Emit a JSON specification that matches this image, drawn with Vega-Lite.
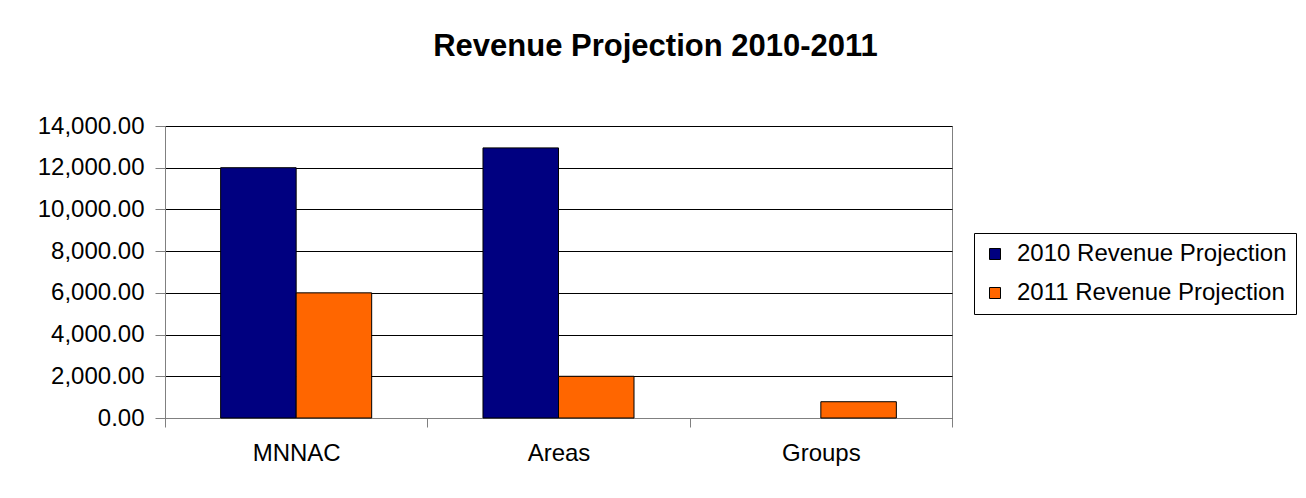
{
  "$schema": "https://vega.github.io/schema/vega-lite/v6.json",
  "autosize": {"type": "none"},
  "width": 787,
  "height": 292,
  "padding": {"left": 165, "top": 126, "right": 354, "bottom": 80},
  "background": "white",
  "title": {
    "text": "Revenue Projection 2010-2011",
    "font": "Liberation Sans",
    "fontSize": 31,
    "fontWeight": "bold",
    "color": "black",
    "anchor": "middle",
    "frame": "group",
    "dx": 97,
    "baseline": "alphabetic",
    "offset": 27
  },
  "data": {
    "values": [
      {"category": "MNNAC", "series": "2010 Revenue Projection", "value": 12000},
      {"category": "MNNAC", "series": "2011 Revenue Projection", "value": 6000},
      {"category": "Areas", "series": "2010 Revenue Projection", "value": 12950},
      {"category": "Areas", "series": "2011 Revenue Projection", "value": 2000},
      {"category": "Groups", "series": "2011 Revenue Projection", "value": 780}
    ]
  },
  "mark": {"type": "bar", "stroke": "black", "strokeWidth": 1},
  "encoding": {
    "x": {
      "field": "category",
      "type": "nominal",
      "sort": ["MNNAC", "Areas", "Groups"],
      "scale": {"domain": ["MNNAC", "Areas", "Groups"], "paddingInner": 0, "paddingOuter": 0},
      "axis": {
        "title": null,
        "labelAngle": 0,
        "tickBand": "extent",
        "domainColor": "#808080",
        "tickColor": "#808080",
        "tickSize": 9,
        "labelPadding": 14,
        "labelFontSize": 24,
        "labelFont": "Liberation Sans",
        "labelColor": "black",
        "grid": false
      }
    },
    "xOffset": {
      "field": "series",
      "type": "nominal",
      "scale": {"domain": ["2010 Revenue Projection", "2011 Revenue Projection"], "paddingInner": 0, "paddingOuter": 0.737}
    },
    "y": {
      "field": "value",
      "type": "quantitative",
      "scale": {"domain": [0, 14000], "nice": false},
      "axis": {
        "title": null,
        "values": [0, 2000, 4000, 6000, 8000, 10000, 12000, 14000],
        "format": ",.2f",
        "grid": true,
        "gridColor": "black",
        "gridWidth": 1,
        "domainColor": "#808080",
        "tickColor": "#808080",
        "tickSize": 10,
        "labelPadding": 11,
        "labelFontSize": 24,
        "labelFont": "Liberation Sans",
        "labelColor": "black"
      }
    },
    "color": {
      "field": "series",
      "type": "nominal",
      "scale": {"domain": ["2010 Revenue Projection", "2011 Revenue Projection"], "range": ["#000080", "#FF6600"]},
      "legend": {
        "title": null,
        "orient": "none",
        "legendX": 809,
        "legendY": 107,
        "strokeColor": "black",
        "fillColor": "white",
        "padding": 9,
        "rowPadding": 15,
        "symbolType": "square",
        "symbolSize": 121,
        "symbolStrokeColor": "black",
        "symbolStrokeWidth": 1,
        "symbolOpacity": 1,
        "labelFontSize": 24,
        "labelFont": "Liberation Sans",
        "labelColor": "black",
        "labelOffset": 10,
        "labelLimit": 400
      }
    }
  },
  "config": {
    "view": {"stroke": "#808080"},
    "font": "Liberation Sans"
  }
}
